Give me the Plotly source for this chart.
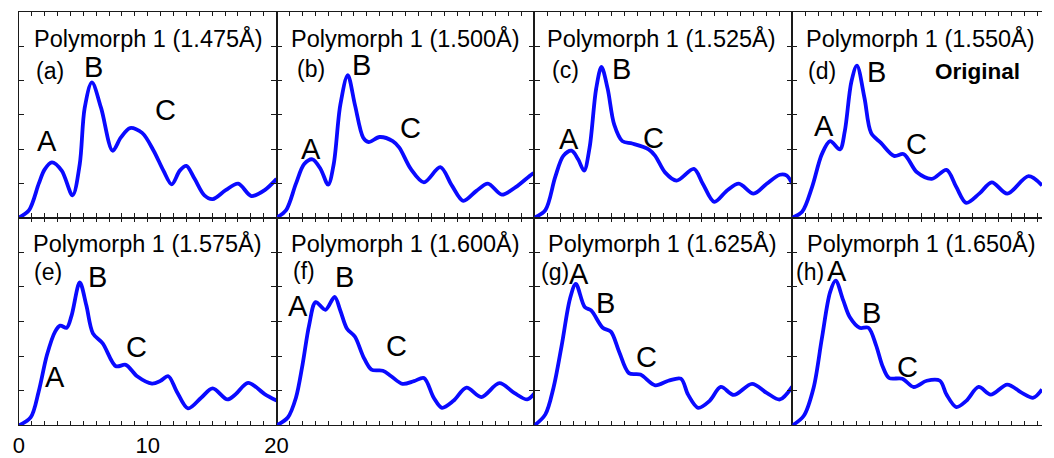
import plotly.graph_objects as go

# ---------------- data ----------------
titles = ["Polymorph 1 (1.475Å)", "Polymorph 1 (1.500Å)", "Polymorph 1 (1.525Å)", "Polymorph 1 (1.550Å)",
          "Polymorph 1 (1.575Å)", "Polymorph 1 (1.600Å)", "Polymorph 1 (1.625Å)", "Polymorph 1 (1.650Å)"]
panel_tags = ["(a)", "(b)", "(c)", "(d)", "(e)", "(f)", "(g)", "(h)"]

x_a = [0, 0.8, 1.55, 2.0, 2.57, 3.33, 4.17, 4.73, 5.11, 5.67, 6.39, 7.28, 7.91, 8.63, 9.57, 10.46, 11.22,
       11.86, 12.49, 13.0, 13.64, 14.4, 15.04, 16.05, 17.02, 18.04, 19.1, 20]
y_a = [0, 0.22, 0.99, 1.4, 1.61, 1.37, 0.65, 1.56, 3.19, 3.94, 3.19, 1.95, 2.33, 2.61, 2.47, 1.95, 1.37,
       0.97, 1.37, 1.51, 1.13, 0.65, 0.54, 0.80, 0.99, 0.63, 0.81, 1.13]

x_b = [0, 0.74, 1.5, 2.14, 2.78, 3.41, 4.0, 4.43, 4.94, 5.52, 6.08, 6.72, 7.15, 7.99, 9.01, 9.52, 10.41,
       11.43, 12.7, 13.59, 14.48, 15.5, 16.39, 17.48, 18.55, 19.82, 20]
y_b = [0, 0.22, 0.99, 1.56, 1.70, 1.42, 0.96, 1.56, 3.28, 4.15, 3.28, 2.33, 2.20, 2.35, 2.23, 2.04, 1.42,
       1.03, 1.47, 0.94, 0.49, 0.78, 0.99, 0.67, 0.89, 1.27, 1.3]

x_c = [0, 0.85, 1.61, 2.24, 2.88, 3.39, 3.85, 4.28, 4.79, 5.2, 5.68, 6.19, 6.82, 7.59, 8.86, 9.37, 10.13,
       11.02, 12.37, 13.06, 13.95, 14.97, 15.86, 17.0, 18.02, 19.04, 19.55, 20]
y_c = [0, 0.22, 1.18, 1.80, 1.95, 1.70, 1.37, 2.04, 3.76, 4.39, 3.76, 2.71, 2.23, 2.16, 1.99, 1.80, 1.32,
       1.08, 1.42, 0.99, 0.46, 0.80, 0.99, 0.70, 0.99, 1.25, 1.23, 0.99]

x_d = [0, 0.76, 1.53, 2.29, 2.93, 3.69, 4.07, 4.58, 5.01, 5.6, 6.11, 6.87, 7.89, 8.65, 9.67, 10.82, 11.96,
       12.72, 13.49, 14.5, 15.47, 16.67, 18.32, 19.37]
y_d = [0, 0.17, 0.89, 1.85, 2.23, 1.99, 2.52, 3.96, 4.43, 3.48, 2.47, 2.18, 1.80, 1.85, 1.32, 1.13, 1.39,
       0.89, 0.43, 0.70, 1.03, 0.70, 1.21, 0.94]

x_e = [0, 0.92, 1.55, 2.19, 2.82, 3.21, 3.72, 4.1, 4.73, 5.24, 5.75, 6.51, 7.53, 8.30, 9.18, 10.33, 10.97,
       11.6, 12.24, 13.13, 14.15, 15.04, 16.18, 16.82, 17.79, 19.1, 20]
y_e = [0, 0.23, 0.99, 2.04, 2.71, 2.88, 2.82, 3.18, 4.13, 3.47, 2.66, 2.37, 1.71, 1.75, 1.42, 1.21, 1.28,
       1.42, 0.99, 0.49, 0.80, 1.07, 0.75, 0.90, 1.23, 0.90, 0.72]

x_f = [0, 0.87, 1.5, 2.01, 2.52, 3.03, 3.79, 4.5, 4.94, 5.45, 6.08, 6.72, 7.36, 8.24, 8.89, 9.77, 10.66,
       11.43, 12.19, 12.83, 13.72, 14.73, 15.88, 17.28, 18.43, 19.44, 20]
y_f = [0, 0.23, 0.80, 1.75, 2.89, 3.56, 3.34, 3.71, 3.32, 2.8, 2.56, 1.99, 1.61, 1.58, 1.42, 1.2, 1.28,
       1.37, 0.80, 0.51, 0.71, 1.09, 0.82, 1.22, 0.94, 0.75, 0.92]

x_g = [0, 0.85, 1.48, 2.12, 2.76, 3.21, 3.9, 4.4, 5.3, 5.93, 6.57, 7.33, 8.22, 9.37, 10.39, 11.36, 11.92,
       12.7, 13.59, 14.46, 15.47, 16.88, 18.02, 19.04, 20]
y_g = [0, 0.32, 1.09, 2.32, 3.66, 4.09, 3.42, 3.32, 2.82, 2.71, 2.13, 1.51, 1.47, 1.16, 1.29, 1.35, 0.89,
       0.51, 0.71, 1.11, 0.88, 1.2, 0.94, 0.75, 1.12]

x_h = [0, 0.89, 1.65, 2.29, 2.93, 3.36, 3.95, 4.45, 5.22, 5.9, 6.49, 7.0, 7.5, 8.53, 9.41, 10.43, 11.45,
       11.96, 12.72, 13.49, 14.45, 15.39, 16.67, 17.81, 18.7, 19.37]
y_h = [0, 0.28, 1.09, 2.51, 3.85, 4.18, 3.61, 3.13, 2.82, 2.82, 2.32, 1.71, 1.37, 1.35, 1.11, 1.29, 1.29,
       0.89, 0.53, 0.71, 1.11, 0.89, 1.18, 0.94, 0.8, 1.04]

series_x = [x_a, x_b, x_c, x_d, x_e, x_f, x_g, x_h]
series_y = [y_a, y_b, y_c, y_d, y_e, y_f, y_g, y_h]

x_tick_values = list(range(0, 21))
x_tick_labels = ["0" if v == 0 else "10" if v == 10 else "20" if v == 20 else "" for v in x_tick_values]
peak_names = ["A", "B", "C"]

# ---------------- layout / positions ----------------
W, H = 1054, 458
col_px = [(13, 275.3), (275.3, 537.6), (537.6, 800), (800, 1054)]
row_px = [(12, 221.5), (221.5, 433)]
x_unit_px = 262.3 / 20.0

tag_pos = [(1.15, 4.28), (1.45, 4.34), (1.18, 4.31), (1.07, 4.28),
           (1.0, 4.43), (1.1, 4.46), (0.32, 4.43), (0.1, 4.43)]
title_pos = [(1.0, 5.23), (1.0, 5.23), (0.85, 5.23), (0.9, 5.23),
             (0.95, 5.26), (1.0, 5.26), (0.9, 5.26), (0.95, 5.26)]
abc_pos = [
    [(2.21, 2.24), (5.8, 4.4), (11.37, 3.13)],
    [(2.65, 2.01), (6.6, 4.45), (10.41, 2.61)],
    [(2.7, 2.28), (6.75, 4.34), (9.24, 2.33)],
    [(2.48, 2.67), (6.56, 4.25), (9.6, 2.16)],
    [(2.79, 1.4), (6.1, 4.3), (9.12, 2.26)],
    [(1.69, 3.44), (5.25, 4.29), (9.27, 2.3)],
    [(3.45, 4.37), (5.55, 3.54), (8.73, 1.97)],
    [(3.5, 4.47), (6.17, 3.26), (8.9, 1.69)],
]

FONT = "Liberation Sans, Arial, Helvetica, sans-serif"
AXC = "#1a1a1a"

fig = go.Figure()
layout = dict(
    width=W, height=H, margin=dict(l=0, r=0, t=0, b=0),
    paper_bgcolor="white", plot_bgcolor="white", showlegend=False,
    font=dict(family=FONT, color="black"),
)
annotations = []

for i in range(8):
    r, c = divmod(i, 4)
    n = i + 1
    xa = "x" if n == 1 else f"x{n}"
    ya = "y" if n == 1 else f"y{n}"
    x0, x1 = col_px[c]
    t0, t1 = row_px[r]
    xmax = (x1 - x0) / x_unit_px
    fig.add_trace(go.Scatter(
        x=series_x[i], y=series_y[i], mode="lines",
        line=dict(color="#0a0aff", width=3.8, shape="spline", smoothing=0.9),
        xaxis=xa, yaxis=ya, hoverinfo="skip"))
    last_col = (c == 3)
    layout["xaxis" if n == 1 else f"xaxis{n}"] = dict(
        domain=[x0 / W, x1 / W], range=[0, xmax], anchor=ya,
        showgrid=False, zeroline=False, showline=True, linecolor=AXC, linewidth=1.3,
        mirror="allticks", ticks="inside", ticklen=4, tickwidth=1, tickcolor=AXC,
        tickmode="array", tickvals=x_tick_values, ticktext=x_tick_labels,
        showticklabels=(i == 4), tickfont=dict(size=22, family=FONT, color="black"),
        fixedrange=True)
    layout["yaxis" if n == 1 else f"yaxis{n}"] = dict(
        domain=[(H - t1) / H, (H - t0) / H], range=[0, 6], anchor=xa,
        showgrid=False, zeroline=False, showline=True, linecolor=AXC, linewidth=1.3,
        mirror=(False if last_col else "allticks"), ticks="inside", ticklen=5, tickwidth=1,
        tickcolor=AXC, dtick=1, tick0=0, showticklabels=False, fixedrange=True)

    tx, ty = title_pos[i]
    annotations.append(dict(x=tx, y=ty, xref=xa, yref=ya, text=titles[i], showarrow=False,
                            xanchor="left", yanchor="middle", font=dict(size=23.5, family=FONT, color="black")))
    px_, py_ = tag_pos[i]
    annotations.append(dict(x=px_, y=py_, xref=xa, yref=ya, text=panel_tags[i], showarrow=False,
                            xanchor="left", yanchor="middle", font=dict(size=23, family=FONT, color="black")))
    for (lx, ly), name in zip(abc_pos[i], peak_names):
        annotations.append(dict(x=lx, y=ly, xref=xa, yref=ya, text=name, showarrow=False,
                                xanchor="center", yanchor="middle",
                                font=dict(size=29, family=FONT, color="black")))

annotations.append(dict(x=14.35, y=4.27, xref="x4", yref="y4", text="<b>Original</b>", showarrow=False,
                        xanchor="center", yanchor="middle", font=dict(size=22.5, family=FONT, color="black")))

layout["annotations"] = annotations
fig.update_layout(**layout)
fig.write_html("out.html")
